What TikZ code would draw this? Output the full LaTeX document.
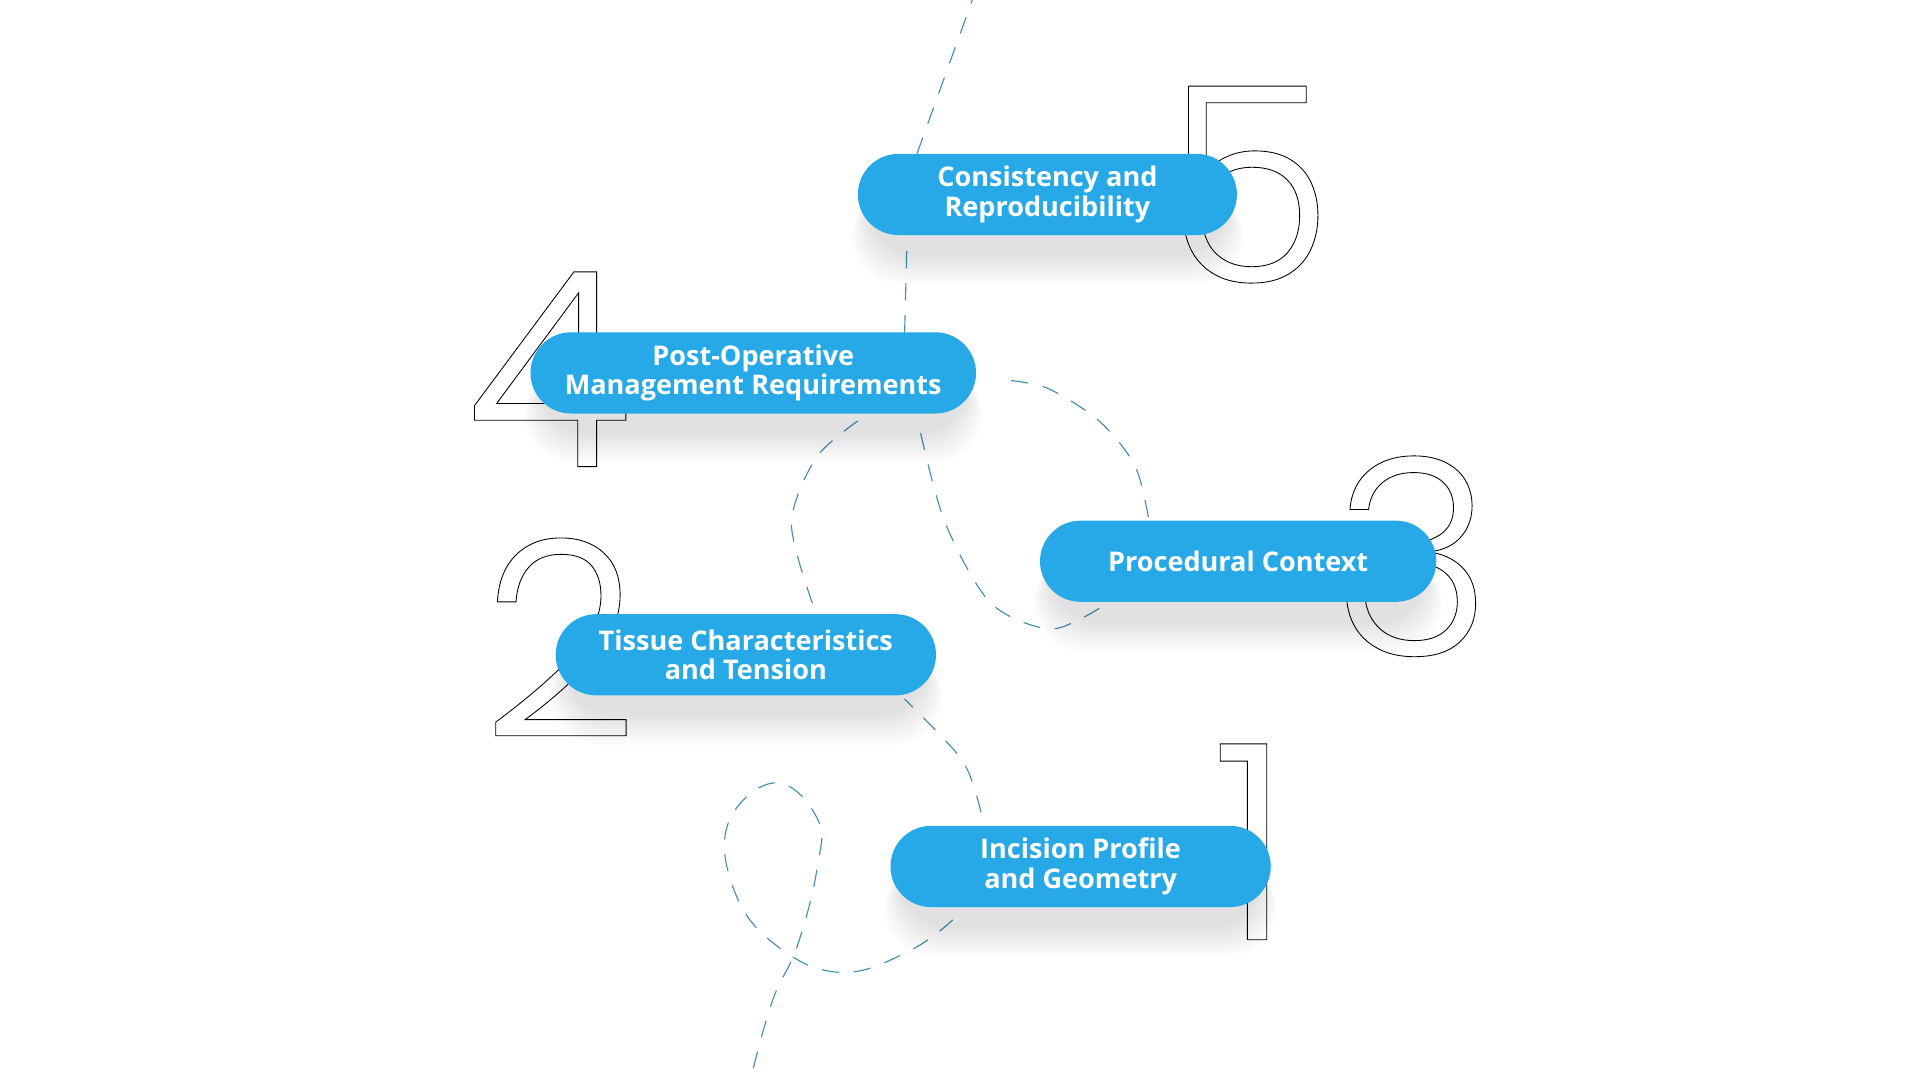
\documentclass[tikz,border=0pt]{standalone}
\usepackage{fontspec}
\setmainfont{Open Sans}
\newfontfamily\digitfont{Poppins Light}
\definecolor{pillblue}{HTML}{27A9E8}
\definecolor{dashc}{HTML}{3E8DB3}
\begin{document}
\begin{tikzpicture}[x=1pt,y=-1pt,
  pill/.style={rounded corners=33pt,fill=pillblue,minimum height=66pt,inner sep=0pt,text=white,font=\fontsize{22}{24}\selectfont\bfseries,align=center},
  dig/.style={inner sep=0pt,font=\digitfont\fontsize{222}{222}\selectfont,anchor=center},
  dsh/.style={dashc,line width=0.9pt,dash pattern=on 14pt off 12pt}]
\useasboundingbox (0,0) rectangle (1560,877.5);
\fill[white] (0,0) rectangle (1560,877.5);
% outline digits
\newcommand{\outl}[1]{\special{pdf:literal direct 1 Tr 0.7 w}#1\special{pdf:literal direct 0 Tr}}
\node[dig] (d5) at (1015,150) {\outl{5}};
\node[dig] (d4) at (446,300) {\outl{4}};
\node[dig] (d3) at (1148,452) {\outl{3}};
\node[dig] (d2) at (455,518) {\outl{2}};
\node[dig] (d1) at (1017,684) {\outl{1}};
% dashed path
\draw[dsh] plot[smooth,tension=0.7] coordinates {(612,868) (628,812) (648,768) (664,705) (664,665) (630,636) (592,668) (596,722) (628,766) (682,790) (740,772) (780,742)};
\draw[dsh] plot[smooth] coordinates {(797,660) (782,618) (735,568)};
\draw[dsh] plot[smooth] coordinates {(660,490) (643,425) (663,372) (697,342)};
\draw[dsh] plot[smooth] coordinates {(748,352) (768,425) (805,490) (855,511) (900,490)};
\draw[dsh] plot[smooth] coordinates {(933,420) (922,378) (893,342) (850,315) (810,308)};
\draw[dsh] (735,270) -- (737,193);
\draw[dsh] (745,125) -- (790,0);
% shadows
\foreach \cx/\cy/\w in {851/158/308,612/303/362,1006/456/322,606/532/309,878/704/309}{
  \foreach \i in {1,...,10}{
    \fill[black,opacity=0.012,rounded corners=40pt] (\cx-\w/2+10-\i*1.5,\cy-20+\i*1.5) rectangle (\cx+\w/2-10+\i*1.5,\cy+48+\i*2.5);
  }
}
% pills
\node[pill,minimum width=308pt] (p5) at (851,158) {Consistency and\\Reproducibility};
\node[pill,minimum width=362pt] (p4) at (612,303) {Post-Operative\\Management Requirements};
\node[pill,minimum width=322pt] (p3) at (1006,456) {Procedural Context};
\node[pill,minimum width=309pt] (p2) at (606,532) {Tissue Characteristics\\and Tension};
\node[pill,minimum width=309pt] (p1) at (878,704) {Incision Profile\\and Geometry};
\end{tikzpicture}
\end{document}
